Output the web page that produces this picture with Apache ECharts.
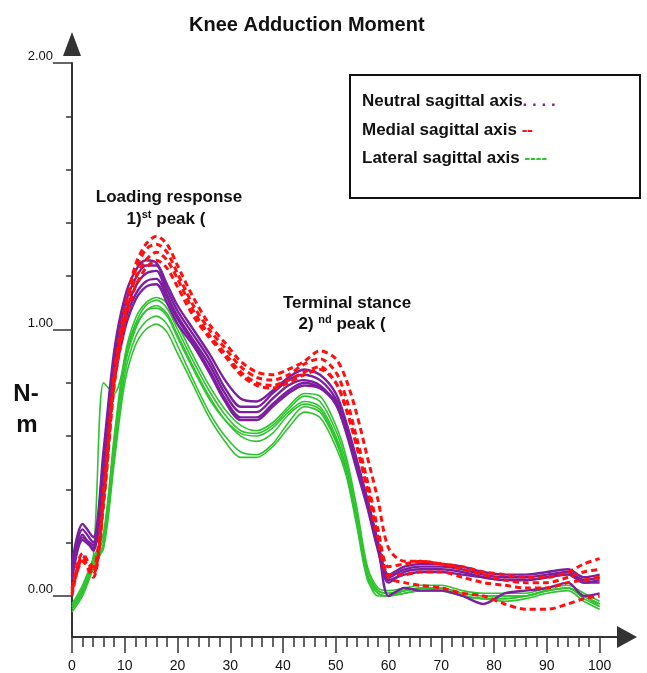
<!DOCTYPE html>
<html>
<head>
<meta charset="utf-8">
<title>Knee Adduction Moment</title>
<script src="https://cdn.jsdelivr.net/npm/echarts@6.0.0/dist/echarts.min.js"></script>
<style>
  html, body { margin: 0; padding: 0; background: #fff; }
  #chart { width: 647px; height: 673px; }
</style>
</head>
<body>
<div id="chart"></div>
<script>
// % of stance phase where each curve is sampled
var pct = [0, 2, 4, 6, 8, 10, 12, 14, 16, 18, 20, 23, 26, 29, 32, 35, 38, 41, 44, 47, 50,
           52, 54, 56, 58, 60, 63, 66, 70, 74, 78, 82, 86, 90, 94, 97, 100];

// neutral sagittal axis trials (N-m)
var neutralTrials = [
  [0.12, 0.27, 0.22, 0.55, 0.92, 1.12, 1.22, 1.26, 1.25, 1.17, 1.09, 1.00, 0.91, 0.81, 0.74, 0.73, 0.77, 0.82, 0.85, 0.83, 0.76,
   0.65, 0.51, 0.36, 0.20, 0.08, 0.11, 0.12, 0.12, 0.11, 0.09, 0.08, 0.08, 0.09, 0.10, 0.07, 0.08],
  [0.10, 0.25, 0.20, 0.52, 0.88, 1.09, 1.19, 1.24, 1.24, 1.15, 1.07, 0.98, 0.89, 0.78, 0.71, 0.71, 0.76, 0.81, 0.83, 0.81, 0.74,
   0.63, 0.49, 0.35, 0.19, 0.07, 0.10, 0.11, 0.11, 0.10, 0.08, 0.07, 0.07, 0.08, 0.09, 0.06, 0.07],
  [0.08, 0.22, 0.19, 0.48, 0.84, 1.05, 1.16, 1.21, 1.22, 1.13, 1.05, 0.96, 0.87, 0.76, 0.69, 0.69, 0.74, 0.79, 0.81, 0.79, 0.72,
   0.61, 0.47, 0.33, 0.17, 0.05, 0.09, 0.10, 0.10, 0.09, 0.07, 0.06, 0.06, 0.07, 0.08, 0.05, 0.06],
  [0.06, 0.21, 0.18, 0.46, 0.82, 1.03, 1.13, 1.18, 1.19, 1.12, 1.04, 0.95, 0.85, 0.74, 0.67, 0.67, 0.72, 0.77, 0.80, 0.78, 0.72,
   0.62, 0.48, 0.34, 0.18, 0.06, 0.08, 0.09, 0.09, 0.08, 0.07, 0.06, 0.06, 0.07, 0.09, 0.05, 0.05],
  [0.09, 0.23, 0.17, 0.44, 0.80, 1.00, 1.11, 1.16, 1.17, 1.10, 1.02, 0.94, 0.84, 0.73, 0.66, 0.66, 0.71, 0.76, 0.79, 0.78, 0.73,
   0.63, 0.50, 0.36, 0.20, 0.00, 0.03, 0.02, 0.02, 0.00, -0.03, 0.01, 0.02, 0.03, 0.05, 0.00, 0.01]
];

// medial sagittal axis trials
var medialTrials = [
  [0.03, 0.16, 0.09, 0.36, 0.80, 1.07, 1.24, 1.32, 1.35, 1.32, 1.24, 1.12, 1.02, 0.95, 0.88, 0.84, 0.83, 0.85, 0.88, 0.92, 0.89,
   0.81, 0.68, 0.52, 0.36, 0.18, 0.13, 0.13, 0.12, 0.11, 0.09, 0.08, 0.07, 0.07, 0.09, 0.12, 0.14],
  [0.01, 0.15, 0.11, 0.40, 0.84, 1.08, 1.22, 1.30, 1.32, 1.29, 1.21, 1.09, 1.00, 0.93, 0.86, 0.82, 0.81, 0.83, 0.87, 0.89, 0.84,
   0.74, 0.59, 0.43, 0.25, 0.11, 0.12, 0.13, 0.12, 0.10, 0.08, 0.06, 0.05, 0.05, 0.07, 0.09, 0.10],
  [0.00, 0.14, 0.08, 0.37, 0.82, 1.05, 1.19, 1.26, 1.29, 1.26, 1.19, 1.07, 0.98, 0.91, 0.84, 0.80, 0.79, 0.81, 0.84, 0.86, 0.80,
   0.70, 0.56, 0.40, 0.22, 0.08, 0.08, 0.09, 0.09, 0.07, 0.05, 0.04, 0.03, 0.03, 0.05, 0.06, 0.07],
  [0.02, 0.13, 0.07, 0.35, 0.79, 1.02, 1.16, 1.23, 1.26, 1.23, 1.16, 1.05, 0.97, 0.90, 0.83, 0.79, 0.78, 0.80, 0.83, 0.85, 0.80,
   0.70, 0.56, 0.40, 0.22, 0.07, 0.05, 0.04, 0.03, 0.01, 0.00, -0.03, -0.05, -0.05, -0.03, -0.01, 0.00]
];

// lateral sagittal axis trials
var lateralTrials = [
  [-0.03, 0.04, 0.14, 0.24, 0.60, 0.90, 1.04, 1.10, 1.12, 1.10, 1.02, 0.90, 0.79, 0.70, 0.64, 0.62, 0.65, 0.71, 0.76, 0.75, 0.64,
   0.52, 0.33, 0.11, 0.03, 0.02, 0.03, 0.04, 0.04, 0.02, 0.01, 0.01, 0.01, 0.03, 0.04, 0.01, -0.02],
  [-0.04, 0.02, 0.13, 0.22, 0.58, 0.89, 1.02, 1.09, 1.11, 1.08, 1.00, 0.88, 0.77, 0.68, 0.62, 0.61, 0.64, 0.70, 0.75, 0.73, 0.62,
   0.50, 0.31, 0.10, 0.02, 0.01, 0.02, 0.03, 0.03, 0.01, 0.00, 0.00, 0.00, 0.02, 0.03, 0.00, -0.03],
  [-0.05, 0.01, 0.11, 0.20, 0.55, 0.86, 1.00, 1.07, 1.08, 1.05, 0.97, 0.85, 0.74, 0.66, 0.61, 0.60, 0.63, 0.69, 0.73, 0.71, 0.60,
   0.48, 0.29, 0.08, 0.01, 0.00, 0.02, 0.03, 0.02, 0.00, -0.01, -0.01, 0.00, 0.02, 0.03, -0.01, -0.04],
  [-0.06, 0.00, 0.10, 0.19, 0.52, 0.83, 0.97, 1.03, 1.05, 1.02, 0.94, 0.81, 0.69, 0.60, 0.54, 0.53, 0.57, 0.65, 0.71, 0.69, 0.58,
   0.46, 0.27, 0.07, 0.00, 0.00, 0.01, 0.02, 0.02, 0.00, -0.01, -0.02, -0.01, 0.01, 0.02, -0.02, -0.05],
  [-0.04, 0.02, 0.12, 0.18, 0.50, 0.80, 0.94, 1.00, 1.02, 0.99, 0.91, 0.79, 0.67, 0.58, 0.52, 0.52, 0.56, 0.63, 0.69, 0.67, 0.56,
   0.45, 0.26, 0.06, 0.01, 0.00, 0.01, 0.02, 0.02, 0.00, -0.01, -0.01, 0.00, 0.02, 0.03, 0.00, -0.04],
  [-0.04, 0.03, 0.14, 0.80, 0.76, 0.88, 1.01, 1.07, 1.09, 1.06, 0.98, 0.86, 0.75, 0.66, 0.60, 0.58, 0.61, 0.68, 0.72, 0.70, 0.59,
   0.47, 0.28, 0.08, 0.02, 0.01, 0.02, 0.03, 0.03, 0.01, 0.00, 0.00, 0.00, 0.02, 0.03, 0.00, -0.03]
];

var xTickValues = [0, 10, 20, 30, 40, 50, 60, 70, 80, 90, 100];
var yTickValues = [0, 1, 2];
var yTickLabels = ['0.00', '1.00', '2.00'];

var purple = '#7b1f9e', red = '#ff1010', green = '#2ec42e';
var font = '"Liberation Sans", Arial, sans-serif';

// small ticks every 2 % and every 0.2 N-m
var xMinor = [];
for (var i = 0; i <= 100; i += 2) xMinor.push(i);
var yMinor = [];
for (var j = 0; j <= 10; j++) yMinor.push(Math.round(j * 20) / 100);

function makeSeries(trials, name, lineStyle) {
    return trials.map(function(vals) {
        return {
            type: 'line',
            name: name,
            xAxisIndex: 0,
            yAxisIndex: 0,
            symbol: 'none',
            smooth: 0.3,
            silent: true,
            lineStyle: lineStyle,
            data: vals.map(function(v, k) { return [pct[k], v]; })
        };
    });
}

var series = [].concat(
    makeSeries(lateralTrials, 'Lateral sagittal axis', { color: green, width: 1.6 }),
    makeSeries(neutralTrials, 'Neutral sagittal axis', { color: purple, width: 2.4 }),
    makeSeries(medialTrials, 'Medial sagittal axis', { color: red, width: 3, type: [6, 4] })
);

var axisColor = '#333';

var chart = echarts.init(document.getElementById('chart'), null, { renderer: 'canvas' });
chart.setOption({
    animation: false,
    backgroundColor: '#fff',
    title: {
        text: 'Knee Adduction Moment',
        left: 184,
        top: 10,
        textStyle: { fontFamily: font, fontSize: 20, fontWeight: 'bold', color: '#111' }
    },
    grid: { left: 72, right: 21, top: 63, bottom: 36, containLabel: false, outerBoundsMode: 'none' },
    xAxis: [{
        type: 'value',
        position: 'bottom',
        min: 0,
        max: 105,
        axisLine: {
            onZero: false,
            lineStyle: { color: axisColor, width: 2 },
            symbol: ['none', 'triangle'],
            symbolSize: [22, 20],
            symbolOffset: [0, 1]
        },
        axisTick: { show: true, customValues: xMinor, length: 10, lineStyle: { color: axisColor, width: 1.5 } },
        axisLabel: { show: false },
        splitLine: { show: false }
    }, {
        type: 'value',
        position: 'bottom',
        min: 0,
        max: 105,
        axisLine: { show: false, onZero: false },
        axisTick: { show: true, customValues: xTickValues, length: 16, lineStyle: { color: axisColor, width: 1.5 } },
        axisLabel: {
            show: true,
            customValues: xTickValues,
            margin: 22,
            fontFamily: font,
            fontSize: 14,
            color: '#111'
        },
        splitLine: { show: false }
    }],
    yAxis: [{
        type: 'value',
        position: 'left',
        min: -0.154,
        max: 2,
        axisLine: {
            show: true,
            onZero: false,
            lineStyle: { color: axisColor, width: 2 },
            symbol: ['none', 'triangle'],
            symbolSize: [18, 24],
            symbolOffset: [0, 19]
        },
        axisTick: { show: true, customValues: yMinor, length: 6, lineStyle: { color: axisColor, width: 1.5 } },
        axisLabel: { show: false },
        splitLine: { show: false }
    }, {
        type: 'value',
        position: 'left',
        min: -0.154,
        max: 2,
        axisLine: { show: false, onZero: false },
        axisTick: { show: true, customValues: yTickValues, length: 19, lineStyle: { color: axisColor, width: 1.5 } },
        axisLabel: {
            show: true,
            customValues: yTickValues,
            margin: 19,
            verticalAlign: 'bottom',
            lineHeight: 13,
            fontFamily: font,
            fontSize: 13,
            color: '#111',
            formatter: function(v) { return yTickLabels[yTickValues.indexOf(v)]; }
        },
        splitLine: { show: false }
    }],
    graphic: [
        // legend box
        {
            type: 'rect',
            shape: { x: 350, y: 75, width: 290, height: 123 },
            style: { fill: 'none', stroke: '#111', lineWidth: 2 },
            z: 10
        },
        {
            type: 'text', x: 362, y: 101, z: 11,
            style: {
                text: '{t|Neutral sagittal axis}{p|. . . .}',
                verticalAlign: 'middle',
                rich: {
                    t: { fontFamily: font, fontSize: 17, fontWeight: 'bold', fill: '#111' },
                    p: { fontFamily: font, fontSize: 17, fontWeight: 'bold', fill: purple }
                }
            }
        },
        {
            type: 'text', x: 362, y: 130, z: 11,
            style: {
                text: '{t|Medial sagittal axis }{p|--}',
                verticalAlign: 'middle',
                rich: {
                    t: { fontFamily: font, fontSize: 17, fontWeight: 'bold', fill: '#111' },
                    p: { fontFamily: font, fontSize: 17, fontWeight: 'bold', fill: red }
                }
            }
        },
        {
            type: 'text', x: 362, y: 158, z: 11,
            style: {
                text: '{t|Lateral sagittal axis }{p|----}',
                verticalAlign: 'middle',
                rich: {
                    t: { fontFamily: font, fontSize: 17, fontWeight: 'bold', fill: '#111' },
                    p: { fontFamily: font, fontSize: 17, fontWeight: 'bold', fill: green }
                }
            }
        },
        // peak annotations
        {
            type: 'text', x: 169, y: 197, z: 11,
            style: {
                text: 'Loading response', fontFamily: font, fontSize: 17, fontWeight: 'bold',
                fill: '#111', align: 'center', verticalAlign: 'middle'
            }
        },
        {
            type: 'text', x: 166, y: 219, z: 11,
            style: {
                text: '{a|1)}{s|st}{a| peak (}',
                align: 'center', verticalAlign: 'middle',
                rich: {
                    a: { fontFamily: font, fontSize: 17, fontWeight: 'bold', fill: '#111', lineHeight: 20 },
                    s: { fontFamily: font, fontSize: 11, fontWeight: 'bold', fill: '#111', lineHeight: 20, verticalAlign: 'top' }
                }
            }
        },
        {
            type: 'text', x: 347, y: 303, z: 11,
            style: {
                text: 'Terminal stance', fontFamily: font, fontSize: 17, fontWeight: 'bold',
                fill: '#111', align: 'center', verticalAlign: 'middle'
            }
        },
        {
            type: 'text', x: 342, y: 324, z: 11,
            style: {
                text: '{a|2) }{s|nd}{a| peak (}',
                align: 'center', verticalAlign: 'middle',
                rich: {
                    a: { fontFamily: font, fontSize: 17, fontWeight: 'bold', fill: '#111', lineHeight: 20 },
                    s: { fontFamily: font, fontSize: 11, fontWeight: 'bold', fill: '#111', lineHeight: 20, verticalAlign: 'top' }
                }
            }
        },
        // unit label
        {
            type: 'text', x: 26, y: 394, z: 11,
            style: { text: 'N-', fontFamily: font, fontSize: 24, fontWeight: 'bold', fill: '#111', align: 'center', verticalAlign: 'middle' }
        },
        {
            type: 'text', x: 27, y: 425, z: 11,
            style: { text: 'm', fontFamily: font, fontSize: 24, fontWeight: 'bold', fill: '#111', align: 'center', verticalAlign: 'middle' }
        }
    ],
    series: series
});
</script>
</body>
</html>
